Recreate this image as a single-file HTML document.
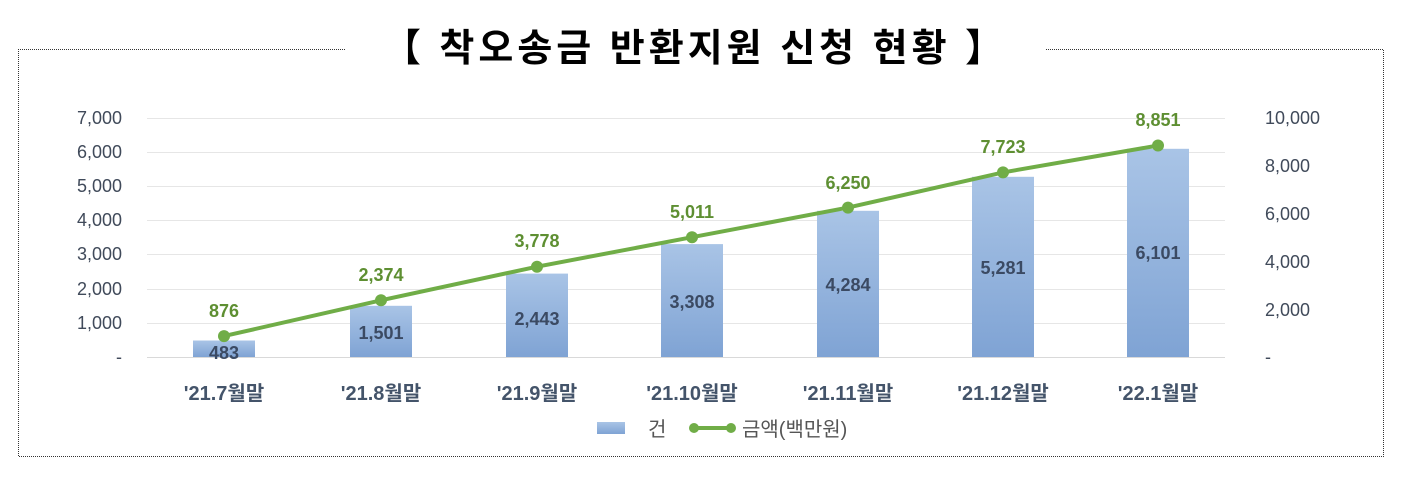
<!DOCTYPE html>
<html><head><meta charset="utf-8"><style>
body{margin:0;background:#fff;}
svg{display:block;}
</style></head><body>
<svg width="1402" height="479" xmlns="http://www.w3.org/2000/svg" font-family="'Liberation Sans','Noto Sans CJK KR',sans-serif">
<defs>
<linearGradient id="g" x1="0" y1="0" x2="0" y2="1">
<stop offset="0" stop-color="#a9c4e6"/><stop offset="1" stop-color="#7fa3d4"/>
</linearGradient>
</defs>
<rect width="1402" height="479" fill="#fff"/>
<g fill="none" stroke="#333" stroke-width="1" stroke-dasharray="1,1">
<path d="M345 49.5 H18.5 V456.5 H1383.5 V49.5 H1045"/>
</g>
<text x="695" y="61" text-anchor="middle" font-size="38" font-weight="bold" letter-spacing="4" fill="#000">【 착오송금 반환지원 신청 현황 】</text>
<g stroke="#e6e6e6" stroke-width="1">
<line x1="147" x2="1225" y1="118.5" y2="118.5"/>
<line x1="147" x2="1225" y1="152.5" y2="152.5"/>
<line x1="147" x2="1225" y1="186.5" y2="186.5"/>
<line x1="147" x2="1225" y1="220.5" y2="220.5"/>
<line x1="147" x2="1225" y1="254.5" y2="254.5"/>
<line x1="147" x2="1225" y1="289.5" y2="289.5"/>
<line x1="147" x2="1225" y1="323.5" y2="323.5"/>
<line x1="147" x2="1225" y1="357.5" y2="357.5" stroke="#d9d9d9"/>
</g>
<g font-size="18" fill="#404a5a" text-anchor="end">
<text x="122" y="124">7,000</text><text x="122" y="158">6,000</text><text x="122" y="192">5,000</text>
<text x="122" y="226">4,000</text><text x="122" y="260">3,000</text><text x="122" y="295">2,000</text>
<text x="122" y="329">1,000</text><text x="122" y="363">-</text>
</g>
<g font-size="18" fill="#404a5a" text-anchor="start">
<text x="1265" y="124">10,000</text><text x="1265" y="172">8,000</text><text x="1265" y="220">6,000</text>
<text x="1265" y="268">4,000</text><text x="1265" y="316">2,000</text><text x="1265" y="363">-</text>
</g>
<g fill="url(#g)">
<rect x="193" y="340.5" width="62" height="16.5"/>
<rect x="350" y="305.8" width="62" height="51.2"/>
<rect x="506" y="273.6" width="62" height="83.4"/>
<rect x="661" y="244.1" width="62" height="112.9"/>
<rect x="817" y="210.8" width="62" height="146.2"/>
<rect x="972" y="176.8" width="62" height="180.2"/>
<rect x="1127" y="148.8" width="62" height="208.2"/>
</g>
<g font-size="18" font-weight="bold" fill="#3b4a63" text-anchor="middle">
<text x="224" y="359">483</text><text x="381" y="339">1,501</text><text x="537" y="325">2,443</text>
<text x="692" y="308">3,308</text><text x="848" y="291">4,284</text><text x="1003" y="274">5,281</text><text x="1158" y="259">6,101</text>
</g>
<polyline fill="none" stroke="#70ad47" stroke-width="4" points="224,336.1 381,300.3 537,266.7 692,237.2 848,207.6 1003,172.4 1158,145.5"/>
<g fill="#70ad47">
<circle cx="224" cy="336.1" r="6"/><circle cx="381" cy="300.3" r="6"/><circle cx="537" cy="266.7" r="6"/>
<circle cx="692" cy="237.2" r="6"/><circle cx="848" cy="207.6" r="6"/><circle cx="1003" cy="172.4" r="6"/><circle cx="1158" cy="145.5" r="6"/>
</g>
<g font-size="18" font-weight="bold" fill="#5e8f32" text-anchor="middle">
<text x="224" y="317">876</text><text x="381" y="281">2,374</text><text x="537" y="247">3,778</text>
<text x="692" y="218">5,011</text><text x="848" y="189">6,250</text><text x="1003" y="153">7,723</text><text x="1158" y="126">8,851</text>
</g>
<g font-size="20" font-weight="bold" fill="#44546a" text-anchor="middle">
<text x="224" y="400">'21.7월말</text><text x="381" y="400">'21.8월말</text><text x="537" y="400">'21.9월말</text>
<text x="692" y="400">'21.10월말</text><text x="848" y="400">'21.11월말</text><text x="1003" y="400">'21.12월말</text><text x="1158" y="400">'22.1월말</text>
</g>
<rect x="597" y="422" width="28" height="12" fill="url(#g)"/>
<text x="648" y="436" font-size="20" fill="#555">건</text>
<line x1="692" x2="732" y1="428" y2="428" stroke="#70ad47" stroke-width="4"/>
<circle cx="694" cy="428" r="5" fill="#70ad47"/><circle cx="731" cy="428" r="5" fill="#70ad47"/>
<text x="742" y="436" font-size="20" fill="#555">금액(백만원)</text>
</svg>
</body></html>
